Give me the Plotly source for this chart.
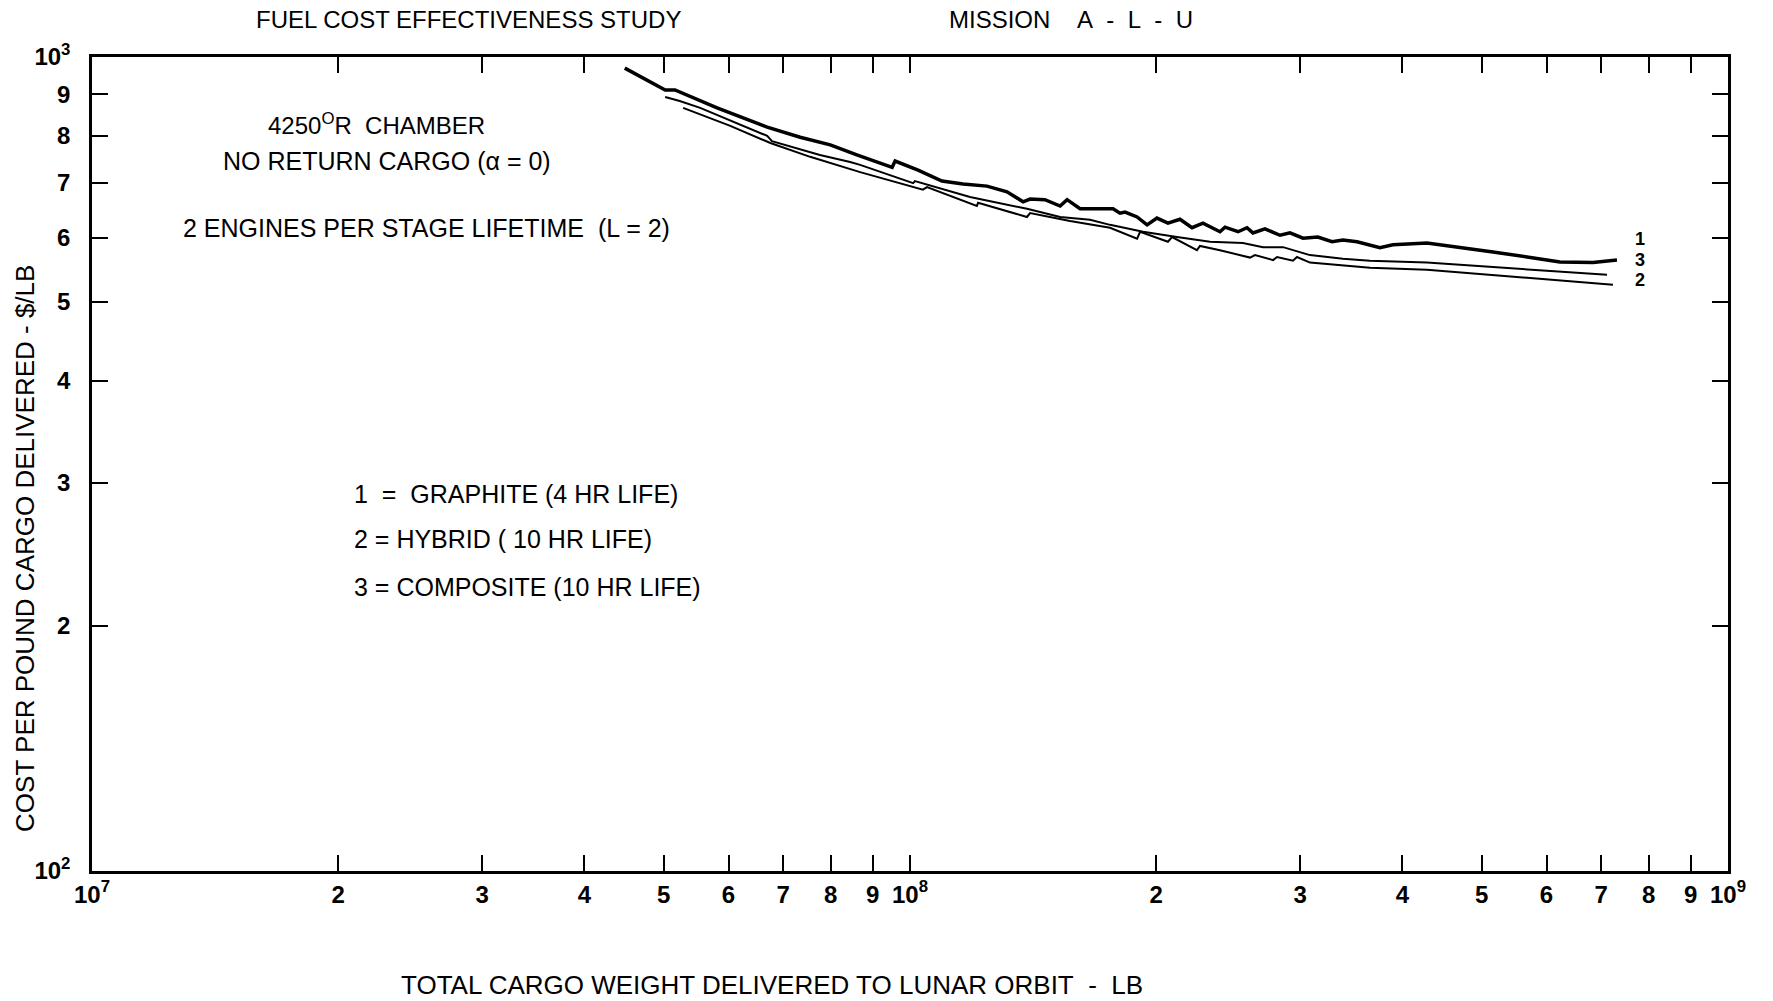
import plotly.graph_objects as go

# ---------------- data ----------------
cargo_graphite = [4.48e7, 5.02e7, 5.16e7, 5.81e7, 6.69e7, 7.34e7, 7.99e7, 8.61e7, 9.51e7, 9.59e7,
                  1.023e8, 1.094e8, 1.161e8, 1.242e8, 1.314e8, 1.375e8, 1.402e8, 1.462e8, 1.526e8, 1.556e8,
                  1.614e8, 1.771e8, 1.806e8, 1.832e8, 1.895e8, 1.949e8, 2.004e8, 2.067e8, 2.138e8, 2.212e8,
                  2.281e8, 2.393e8, 2.427e8, 2.518e8, 2.582e8, 2.626e8, 2.716e8, 2.834e8, 2.914e8, 3.023e8,
                  3.152e8, 3.280e8, 3.383e8, 3.520e8, 3.754e8, 3.894e8, 4.285e8, 4.704e8, 5.161e8, 5.680e8,
                  6.231e8, 6.839e8, 7.316e8]
cost_graphite = [969, 911, 911, 866, 820, 797, 780, 758, 732, 745,
                 726, 704, 698, 694, 683, 664, 669, 668, 656, 668,
                 651, 651, 643, 645, 636, 622, 634, 625, 632, 617,
                 625, 610, 618, 610, 617, 608, 615, 604, 608, 599,
                 601, 593, 596, 593, 583, 588, 591, 584, 576, 568,
                 560, 559, 563]

cargo_composite = [5.02e7, 5.23e7, 5.54e7, 6.69e7, 6.78e7, 7.76e7, 8.45e7, 8.69e7, 1.009e8, 1.014e8,
                   1.184e8, 1.351e8, 1.390e8, 1.526e8, 1.660e8, 1.756e8, 1.927e8, 2.120e8, 2.327e8, 2.553e8,
                   2.701e8, 2.858e8, 3.083e8, 3.383e8, 3.650e8, 4.285e8, 5.161e8, 6.231e8, 7.114e8]
cost_composite = [893, 883, 866, 800, 788, 758, 743, 737, 700, 704,
                  673, 656, 651, 636, 631, 622, 610, 601, 593, 591,
                  584, 584, 571, 565, 562, 559, 552, 545, 540]

cargo_hybrid = [5.28e7, 6.03e7, 6.75e7, 7.55e7, 8.69e7, 1.037e8, 1.049e8, 1.207e8, 1.211e8, 1.390e8,
                1.402e8, 1.569e8, 1.756e8, 1.895e8, 1.911e8, 2.067e8, 2.091e8, 2.243e8, 2.262e8, 2.393e8,
                2.604e8, 2.641e8, 2.779e8, 2.810e8, 2.939e8, 2.972e8, 3.083e8, 3.383e8, 3.650e8, 4.285e8,
                5.161e8, 6.231e8, 7.234e8]
cost_hybrid = [866, 823, 784, 754, 722, 687, 692, 656, 662, 636,
               643, 629, 617, 598, 610, 593, 601, 579, 586, 579,
               567, 571, 563, 568, 562, 568, 559, 554, 551, 548,
               540, 532, 525]

x_tickvals = [1e7, 2e7, 3e7, 4e7, 5e7, 6e7, 7e7, 8e7, 9e7,
              1e8, 2e8, 3e8, 4e8, 5e8, 6e8, 7e8, 8e8, 9e8, 1e9]
x_ticktext = ["10<sup>7</sup>", "2", "3", "4", "5", "6", "7", "8", "9",
              "10<sup>8</sup>", "2", "3", "4", "5", "6", "7", "8", "9", "10<sup>9</sup>"]
y_tickvals = [100, 200, 300, 400, 500, 600, 700, 800, 900, 1000]
y_ticktext = ["10<sup>2</sup>", "2", "3", "4", "5", "6", "7", "8", "9", "10<sup>3</sup>"]

curve_labels = ["1", "3", "2"]
legend_lines = ["1  =  GRAPHITE (4 HR LIFE)", "2 = HYBRID ( 10 HR LIFE)", "3 = COMPOSITE (10 HR LIFE)"]

FONT = "Liberation Sans, Arial, sans-serif"
NB = "\u00a0"

fig = go.Figure()
fig.add_trace(go.Scatter(x=cargo_graphite, y=cost_graphite, mode="lines",
                         line=dict(color="black", width=3.5), name="1"))
fig.add_trace(go.Scatter(x=cargo_composite, y=cost_composite, mode="lines",
                         line=dict(color="black", width=2), name="3"))
fig.add_trace(go.Scatter(x=cargo_hybrid, y=cost_hybrid, mode="lines",
                         line=dict(color="black", width=2), name="2"))

def ann(text, x, y, size=25, xanchor="left", yanchor="middle", angle=0, bold=False):
    if bold:
        text = "<b>" + text + "</b>"
    fig.add_annotation(text=text, x=x, y=y, xref="paper", yref="paper", showarrow=False,
                       xanchor=xanchor, yanchor=yanchor, textangle=angle,
                       font=dict(family=FONT, size=size, color="black"))

ann("FUEL COST EFFECTIVENESS STUDY", 0.2304, 1.0455, size=24, xanchor="center")
ann("MISSION" + NB * 4 + "A" + NB * 2 + "-" + NB * 2 + "L" + NB * 2 + "-" + NB * 2 + "U",
    0.5226, 1.0455, size=24)
ann("4250<sup>O</sup>R  CHAMBER", 0.1736, 0.9177, size=24, xanchor="center")
ann("NO RETURN CARGO (α = 0)", 0.1803, 0.8722, xanchor="center")
ann("2 ENGINES PER STAGE LIFETIME" + NB * 2 + "(L = 2)", 0.0544, 0.7899)
for txt, yy in zip(legend_lines, [0.4631, 0.4079, 0.3489]):
    ann(txt, 0.1589, yy)
for txt, yy in zip(curve_labels, [0.776, 0.751, 0.726]):
    ann(txt, 0.9462, yy, size=18, xanchor="center", bold=True)
ann("TOTAL CARGO WEIGHT DELIVERED TO LUNAR ORBIT" + NB * 2 + "-" + NB * 2 + "LB",
    0.4156, -0.140, size=26, xanchor="center")
ann("COST PER POUND CARGO DELIVERED - $/LB", -0.041, 0.3968, xanchor="center", angle=-90, size=26)

axis_common = dict(showgrid=False, zeroline=False, showline=True, linecolor="black", linewidth=2.5,
                   mirror="ticks", ticks="inside", ticklen=16, tickwidth=2, tickcolor="black",
                   tickfont=dict(family=FONT, size=24, color="black"), tickmode="array")

fig.update_xaxes(type="log", range=[7, 9], tickvals=x_tickvals,
                 ticktext=["<b>" + t + "</b>" for t in x_ticktext], **axis_common)
fig.update_yaxes(type="log", range=[2, 3], tickvals=y_tickvals, ticklabelstandoff=14,
                 ticktext=["<b>" + t + "</b>" for t in y_ticktext], **axis_common)

fig.update_layout(width=1773, height=1001, autosize=False,
                  margin=dict(l=92, r=45, t=57, b=130, pad=0),
                  plot_bgcolor="white", paper_bgcolor="white", showlegend=False)

fig.write_html("out.html")
